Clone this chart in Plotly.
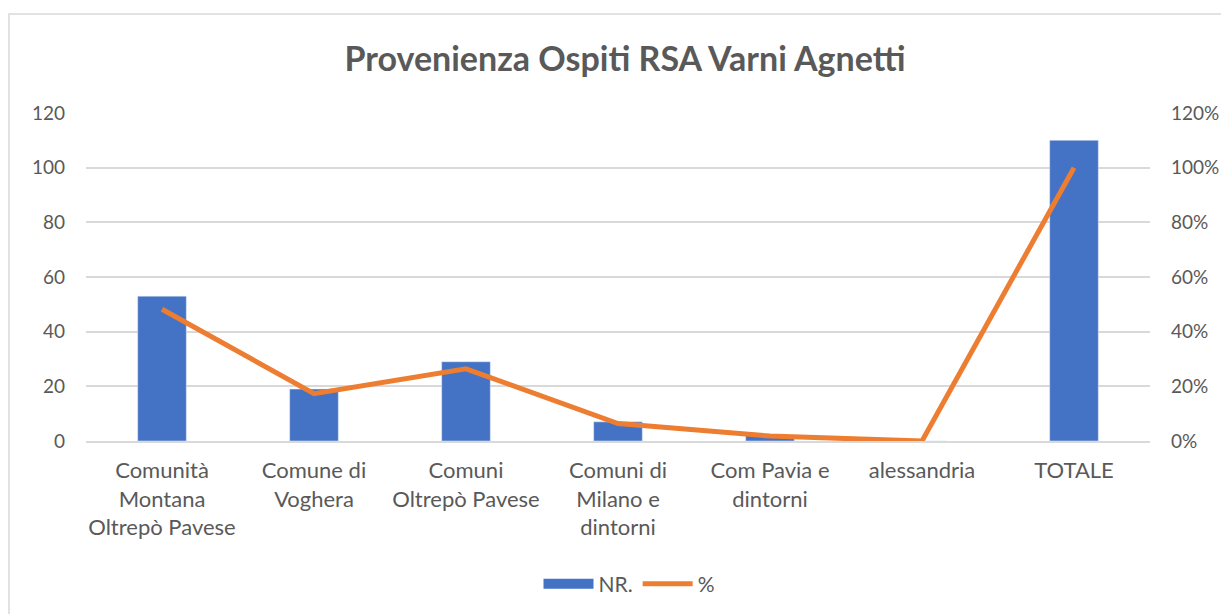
import plotly.graph_objects as go

categories = ["Comunità<br>Montana<br>Oltrepò Pavese", "Comune di<br>Voghera", "Comuni<br>Oltrepò Pavese",
              "Comuni di<br>Milano e<br>dintorni", "Com Pavia e<br>dintorni", "alessandria", "TOTALE"]
nr_values = [53, 19, 29, 7, 2, 0, 110]
pct_values = [0.482, 0.173, 0.264, 0.064, 0.018, 0.0, 1.0]

FONT = "Lato, 'Open Sans', sans-serif"
GREY = "#595959"
BLUE = "#4472C4"
ORANGE = "#ED7D31"

OFF = 8  # browser body margin
W, H = 1229 - OFF, 614 - OFF
L, R, T, B = 86 - OFF, 1150 - OFF, 113 - OFF, 441 - OFF
pw, ph = R - L, B - T

fig = go.Figure()
fig.add_trace(go.Bar(x=categories, y=nr_values, name="NR.", marker_color=BLUE, yaxis="y", showlegend=False))
fig.add_trace(go.Scatter(x=categories, y=pct_values, name="%", mode="lines",
                         line=dict(color=ORANGE, width=5), yaxis="y2", showlegend=False))
# legend entries
fig.add_trace(go.Scatter(x=[None], y=[None], name="NR.", mode="lines",
                         line=dict(color=BLUE, width=15), yaxis="y"))
fig.add_trace(go.Scatter(x=[None], y=[None], name="%", mode="lines",
                         line=dict(color=ORANGE, width=5), yaxis="y2"))

fig.update_layout(
    width=W, height=H,
    margin=dict(l=L, r=W - R, t=T, b=H - B, autoexpand=False),
    paper_bgcolor="white", plot_bgcolor="white",
    font=dict(family=FONT, color=GREY, size=19),
    title=dict(text="<b>Provenienza Ospiti RSA Varni Agnetti</b>", x=(625 - OFF) / W,
               xanchor="center", y=1 - (59 - OFF) / H, yanchor="middle",
               font=dict(size=34, color=GREY, family=FONT)),
    bargap=0.68,
    showlegend=True,
    legend=dict(orientation="h", x=(629 - 86) / pw, xanchor="center", y=(441 - 584) / ph, yanchor="middle",
                font=dict(size=21, color=GREY), itemwidth=50),
    xaxis=dict(showgrid=False, showline=True, linecolor="#D9D9D9", linewidth=1.5,
               tickfont=dict(size=22, color=GREY), ticks="", ticklabelstandoff=9),
    yaxis=dict(range=[0, 120], dtick=20, showgrid=True, gridcolor="#D9D9D9", gridwidth=1.5,
               zeroline=False, tickfont=dict(size=19, color=GREY), ticklabelstandoff=20, showline=False),
    yaxis2=dict(range=[0, 1.2], dtick=0.2, tickformat=".0%", overlaying="y", side="right",
                showgrid=False, zeroline=False, tickfont=dict(size=19, color=GREY), ticklabelstandoff=20),
    shapes=[dict(type="rect", xref="paper", yref="paper",
                 x0=(9 - 86) / pw, x1=(1240 - 86) / pw, y0=(441 - 630) / ph, y1=(441 - 14) / ph,
                 line=dict(color="#D9D9D9", width=1.5), fillcolor="rgba(0,0,0,0)", layer="below")],
)

fig.write_html("out.html")
